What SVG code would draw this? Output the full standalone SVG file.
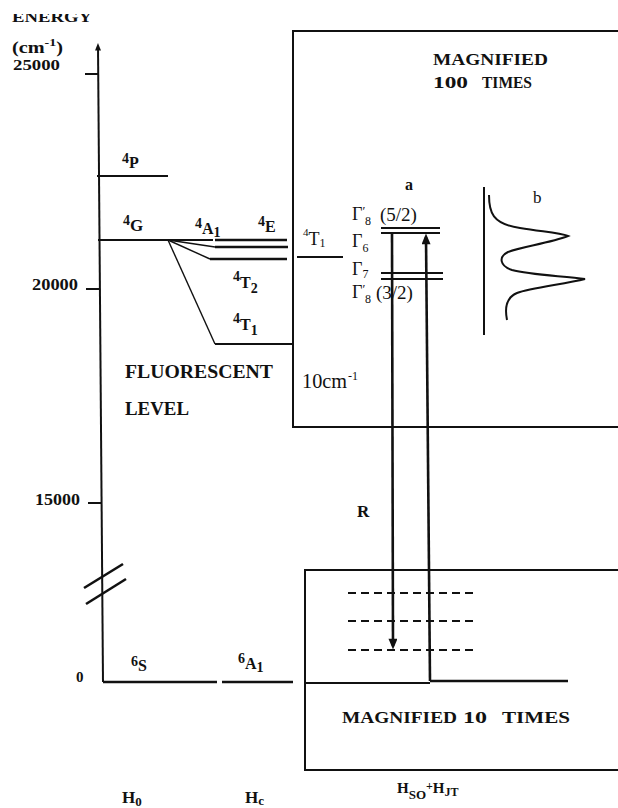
<svg xmlns="http://www.w3.org/2000/svg" width="618" height="808" viewBox="0 0 618 808">
<style>
.ln{stroke:#111;fill:none;stroke-width:2}
.th{stroke:#111;fill:none;stroke-width:2.6}
.tn{stroke:#111;fill:none;stroke-width:1.4}
.ds{stroke:#111;fill:none;stroke-width:2;stroke-dasharray:8 5}
.b{font-family:"Liberation Serif",serif;font-weight:bold;fill:#111}
.r{font-family:"Liberation Serif",serif;fill:#111}
</style>
<defs>
<marker id="ah" markerUnits="userSpaceOnUse" viewBox="0 0 12 10" markerWidth="12" markerHeight="9" refX="8" refY="5" orient="auto">
<path d="M0,0 L12,5 L0,10 z" fill="#111"/>
</marker>
<marker id="ahs" markerUnits="userSpaceOnUse" viewBox="0 0 10 8" markerWidth="10" markerHeight="6" refX="6" refY="4" orient="auto">
<path d="M0,0 L10,4 L0,8 z" fill="#111"/>
</marker>
<clipPath id="topclip"><rect x="0" y="14" width="618" height="20"/></clipPath>
</defs>
<rect width="618" height="808" fill="#fff"/>

<g id="axis">
<text class="b" x="12" y="22" font-size="15" textLength="80" lengthAdjust="spacingAndGlyphs" clip-path="url(#topclip)">ENERGY</text>
<text class="b" x="12" y="53" font-size="16" textLength="51" lengthAdjust="spacingAndGlyphs">(cm<tspan font-size="11" dy="-7">-1</tspan><tspan dy="7">)</tspan></text>
<text class="b" x="13" y="70" font-size="15" textLength="47" lengthAdjust="spacingAndGlyphs">25000</text>
<text class="b" x="32" y="290" font-size="16" textLength="46" lengthAdjust="spacingAndGlyphs">20000</text>
<text class="b" x="35" y="505" font-size="16" textLength="45" lengthAdjust="spacingAndGlyphs">15000</text>
<text class="b" x="76" y="682" font-size="15">0</text>
<line class="ln" x1="103" y1="682" x2="98" y2="46" marker-end="url(#ahs)"/>
<line class="ln" x1="85" y1="74" x2="98" y2="74"/>
<line class="ln" x1="86" y1="289" x2="99" y2="289"/>
<line class="ln" x1="88" y1="503" x2="101" y2="503"/>
<line class="th" x1="84" y1="588" x2="123" y2="564"/>
<line class="th" x1="86" y1="604" x2="126" y2="579"/>
</g>

<g id="level-4P">
<line class="ln" x1="97" y1="176" x2="168" y2="176"/>
<text class="b" x="122" y="168" font-size="16"><tspan font-size="14" dy="-5">4</tspan><tspan dy="5">P</tspan></text>
</g>
<g id="level-4G">
<line class="ln" x1="98" y1="240" x2="213" y2="240"/>
<text class="b" x="123" y="231" font-size="17"><tspan font-size="14" dy="-6">4</tspan><tspan dy="6">G</tspan></text>
</g>
<g id="level-4A1-4E">
<line class="th" x1="215" y1="240" x2="287" y2="240"/>
<line class="th" x1="215" y1="247" x2="288" y2="247"/>
<text class="b" x="195" y="234" font-size="16"><tspan font-size="14" dy="-6">4</tspan><tspan dy="6">A</tspan><tspan font-size="14" dy="3">1</tspan></text>
<text class="b" x="258" y="232" font-size="16"><tspan font-size="14" dy="-6">4</tspan><tspan dy="6">E</tspan></text>
</g>
<g id="level-4T2">
<line class="th" x1="210" y1="259" x2="287" y2="259"/>
<text class="b" x="233" y="288" font-size="16"><tspan font-size="14" dy="-7">4</tspan><tspan dy="7">T</tspan><tspan font-size="14" dy="5">2</tspan></text>
</g>
<g id="level-4T1">
<line class="ln" x1="215" y1="344" x2="293" y2="344"/>
<text class="b" x="233" y="330" font-size="16"><tspan font-size="14" dy="-7">4</tspan><tspan dy="7">T</tspan><tspan font-size="14" dy="5">1</tspan></text>
</g>
<g id="fluorescent-label">
<text class="b" x="125" y="378" font-size="18" textLength="148" lengthAdjust="spacingAndGlyphs">FLUORESCENT</text>
<text class="b" x="125" y="415" font-size="18" textLength="64" lengthAdjust="spacingAndGlyphs">LEVEL</text>
</g>
<g id="level-6S">
<line class="th" x1="103" y1="682" x2="217" y2="682"/>
<text class="b" x="131" y="671" font-size="16"><tspan font-size="14" dy="-5">6</tspan><tspan dy="5">S</tspan></text>
</g>
<g id="level-6A1">
<line class="th" x1="222" y1="682" x2="293" y2="682"/>
<text class="b" x="238" y="669" font-size="16"><tspan font-size="14" dy="-6">6</tspan><tspan dy="6">A</tspan><tspan font-size="14" dy="3">1</tspan></text>
</g>

<g id="box-100">
<path class="ln" d="M618,31 L293,31 L293,427 L618,427"/>
<text class="b" x="433" y="65" font-size="17" textLength="115" lengthAdjust="spacingAndGlyphs">MAGNIFIED</text>
<text class="b" x="433" y="88" font-size="17" textLength="35" lengthAdjust="spacingAndGlyphs">100</text>
<text class="b" x="482" y="88" font-size="17" textLength="50" lengthAdjust="spacingAndGlyphs">TIMES</text>
<text class="r" x="302" y="388" font-size="20" textLength="45" lengthAdjust="spacingAndGlyphs">10cm</text>
<text class="r" x="348" y="380" font-size="12">-1</text>
</g>
<g id="level-4T1-so">
<line class="ln" x1="297" y1="257" x2="343" y2="257"/>
<text class="r" x="303" y="245" font-size="18"><tspan font-size="11" dy="-9">4</tspan><tspan dy="9">T</tspan><tspan font-size="12" dy="2">1</tspan></text>
</g>
<g id="gamma-upper">
<line class="ln" x1="381" y1="228" x2="440" y2="228"/>
<line class="ln" x1="381" y1="233" x2="440" y2="233"/>
<text class="r" x="352" y="220" font-size="18">Γ<tspan font-size="13" dy="-5">′</tspan><tspan font-size="12" x="365" dy="10">8</tspan><tspan x="380" dy="-4" font-size="19">(5/2)</tspan></text>
<text class="r" x="352" y="247" font-size="18">Γ<tspan font-size="12" dy="5">6</tspan></text>
</g>
<g id="gamma-lower">
<line class="ln" x1="381" y1="273" x2="443" y2="273"/>
<line class="ln" x1="381" y1="279" x2="443" y2="279"/>
<text class="r" x="352" y="275" font-size="18">Γ<tspan font-size="12" dy="3">7</tspan></text>
<text class="r" x="352" y="298" font-size="18">Γ<tspan font-size="13" dy="-5">′</tspan><tspan font-size="12" x="365" dy="10">8</tspan><tspan x="376" dy="-4" font-size="19">(3/2)</tspan></text>
<text class="b" x="405" y="190" font-size="16">a</text>
</g>
<g id="spectrum-b">
<line class="ln" x1="484" y1="187" x2="484" y2="335"/>
<path class="ln" d="M489,195 C489,212 492,224 520,228 C545,232 560,233 568,236 C550,243 520,247 508,252 C498,257 500,266 512,270 C530,275 565,276 585,279 C565,284 530,288 517,293 C505,298 505,310 507,320"/>
<text class="r" x="533" y="203" font-size="17">b</text>
</g>

<g id="box-10">
<path class="ln" d="M618,570 L305,570 L305,770 L618,770"/>
<line class="ln" x1="305" y1="683" x2="430" y2="683"/>
<line class="th" x1="430" y1="681" x2="568" y2="681"/>
<line class="ds" x1="348" y1="593" x2="477" y2="593"/>
<line class="ds" x1="348" y1="621" x2="477" y2="621"/>
<line class="ds" x1="348" y1="650" x2="477" y2="650"/>
<text class="b" x="342" y="723" font-size="16" textLength="115" lengthAdjust="spacingAndGlyphs">MAGNIFIED</text>
<text class="b" x="463" y="723" font-size="16" textLength="24" lengthAdjust="spacingAndGlyphs">10</text>
<text class="b" x="502" y="723" font-size="16" textLength="68" lengthAdjust="spacingAndGlyphs">TIMES</text>
</g>

<g id="connectors">
<line class="tn" x1="168" y1="240" x2="215" y2="247"/>
<line class="tn" x1="168" y1="240" x2="210" y2="259"/>
<line class="tn" x1="168" y1="240" x2="215" y2="344"/>
<line class="th" x1="392" y1="233" x2="393" y2="646" marker-end="url(#ah)"/>
<line class="th" x1="430" y1="681" x2="426" y2="237" stroke-width="3" marker-end="url(#ah)"/>
<text class="b" x="357" y="517" font-size="17">R</text>
</g>

<g id="hamiltonians">
<text class="b" x="122" y="803" font-size="17">H<tspan font-size="13" dy="3">0</tspan></text>
<text class="b" x="245" y="803" font-size="17">H<tspan font-size="13" dy="2">c</tspan></text>
<text class="b" x="397" y="793" font-size="15">H<tspan font-size="13" dy="6">SO</tspan><tspan font-size="12" dy="-9">+</tspan><tspan dy="3">H</tspan><tspan font-size="12" dy="3">JT</tspan></text>
</g>
</svg>
